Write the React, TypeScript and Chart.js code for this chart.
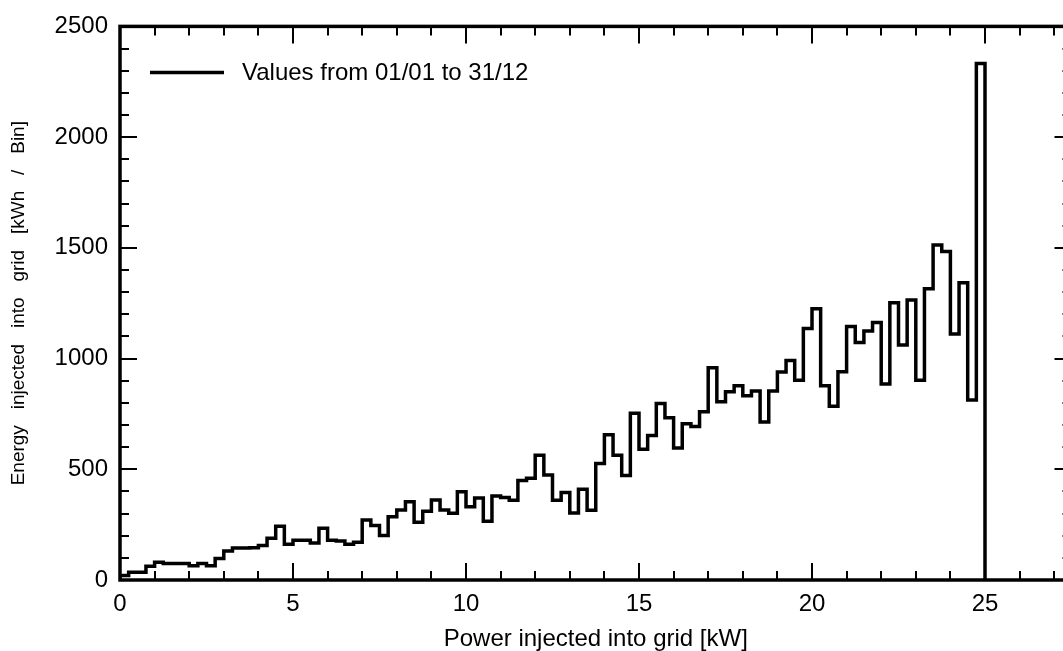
import React, { useEffect, useRef } from "react";
import { Chart, registerables } from "chart.js";

Chart.register(...registerables);

// ---- data ----
const BIN_WIDTH = 0.25; // kW per bin
const energyPerBin = [
  20, 35, 35, 62, 80, 74, 74, 74, 64, 74,
  64, 97, 131, 144, 144, 146, 156, 189, 243, 161,
  179, 179, 167, 234, 179, 176, 161, 170, 271, 246,
  201, 286, 316, 353, 261, 310, 361, 316, 301, 398,
  331, 370, 265, 379, 372, 360, 449, 459, 563, 474,
  360, 395, 303, 410, 315, 526, 656, 563, 472, 753,
  590, 652, 797, 733, 596, 706, 693, 760, 959, 805,
  850, 877, 832, 853, 713, 853, 939, 991, 902, 1136,
  1225, 877, 785, 940, 1145, 1072, 1125, 1163, 885, 1252,
  1061, 1264, 902, 1315, 1513, 1483, 1111, 1342, 813, 2333,
];
const binStarts = energyPerBin.map((_, i) => i * BIN_WIDTH);
const xTickLabels = [0, 5, 10, 15, 20, 25];
const yTickLabels = [0, 500, 1000, 1500, 2000, 2500];
const seriesLabel = "Values from 01/01 to 31/12";
const xTitle = "Power injected into grid [kW]";
const yTitle = "Energy   injected   into   grid   [kWh   /   Bin]";

const X_MIN = 0;
const X_MAX = 27.5;
const Y_MIN = 0;
const Y_MAX = 2500;
const X_MINOR = 1;
const X_MAJOR = 5;
const Y_MINOR = 100;
const Y_MAJOR = 500;

const FONT = "'Liberation Sans', Arial, Helvetica, sans-serif";

const frameTicksLegend = {
  id: "frameTicksLegend",
  afterDatasetsDraw(chart: any) {
    const { ctx, chartArea, scales } = chart;
    const { left, right, top, bottom } = chartArea;
    const xs = scales.x;
    const ys = scales.y;
    ctx.save();
    ctx.strokeStyle = "#000";
    ctx.lineCap = "butt";
    ctx.lineWidth = 2;
    ctx.beginPath();
    for (let v = X_MIN; v <= X_MAX + 1e-9; v += X_MINOR) {
      const px = Math.round(xs.getPixelForValue(v));
      const len = Math.abs(v % X_MAJOR) < 1e-9 ? 17 : 9;
      ctx.moveTo(px, bottom);
      ctx.lineTo(px, bottom - len);
      ctx.moveTo(px, top);
      ctx.lineTo(px, top + len);
    }
    for (let v = Y_MIN; v <= Y_MAX + 1e-9; v += Y_MINOR) {
      const py = Math.round(ys.getPixelForValue(v));
      const len = Math.abs(v % Y_MAJOR) < 1e-9 ? 17 : 9;
      ctx.moveTo(left, py);
      ctx.lineTo(left + len, py);
      ctx.moveTo(right, py);
      ctx.lineTo(right - len, py);
    }
    ctx.stroke();

    ctx.lineWidth = 3.5;
    ctx.strokeRect(left, top, right - left, bottom - top);

    // legend inside plot area
    const ly = top + 46;
    ctx.lineWidth = 3.5;
    ctx.beginPath();
    ctx.moveTo(left + 30, ly);
    ctx.lineTo(left + 104, ly);
    ctx.stroke();
    ctx.fillStyle = "#000";
    ctx.font = `24px ${FONT}`;
    ctx.textAlign = "left";
    ctx.textBaseline = "middle";
    ctx.fillText(chart.data.datasets[0].label, left + 122, ly + 1);
    ctx.restore();
  },
};

export default function App() {
  const canvasRef = useRef<HTMLCanvasElement | null>(null);

  useEffect(() => {
    const canvas = canvasRef.current;
    if (!canvas) return;
    const points = [
      { x: X_MIN, y: 0 },
      ...binStarts.map((x, i) => ({ x, y: energyPerBin[i] })),
      { x: binStarts[binStarts.length - 1] + BIN_WIDTH, y: 0 },
    ];
    const chart = new Chart(canvas, {
      type: "line",
      data: {
        datasets: [
          {
            label: seriesLabel,
            data: points,
            stepped: "before",
            borderColor: "#000",
            borderWidth: 3.5,
            pointRadius: 0,
            fill: false,
            tension: 0,
          },
        ],
      },
      options: {
        animation: false,
        responsive: false,
        devicePixelRatio: 1,
        layout: { padding: { top: 20, right: 8.5, left: 0, bottom: 0 } },
        plugins: {
          legend: { display: false },
          tooltip: { enabled: false },
        },
        scales: {
          x: {
            type: "linear",
            min: X_MIN,
            max: X_MAX,
            afterBuildTicks: (s: any) => {
              s.ticks = xTickLabels.map((v) => ({ value: v }));
            },
            afterFit: (s: any) => {
              s.height = 71;
            },
            grid: { display: false, drawTicks: false },
            border: { display: false },
            ticks: {
              color: "#000",
              font: { family: FONT, size: 24 },
              padding: 10,
              maxRotation: 0,
              callback: (v: any) => String(v),
            },
            title: {
              display: true,
              text: xTitle,
              color: "#000",
              font: { family: FONT, size: 24, lineHeight: 1 },
              padding: { top: 0, bottom: 0 },
            },
          },
          y: {
            type: "linear",
            min: Y_MIN,
            max: Y_MAX,
            afterBuildTicks: (s: any) => {
              s.ticks = yTickLabels.map((v) => ({ value: v }));
            },
            afterFit: (s: any) => {
              s.width = 120;
            },
            grid: { display: false, drawTicks: false },
            border: { display: false },
            ticks: {
              color: "#000",
              font: { family: FONT, size: 24 },
              padding: 12,
              callback: (v: any) => String(v),
            },
            title: {
              display: true,
              text: yTitle,
              color: "#000",
              font: { family: FONT, size: 19, lineHeight: 1 },
              padding: { top: 9, bottom: 0 },
            },
          },
        },
      },
      plugins: [frameTicksLegend],
    });
    return () => chart.destroy();
  }, []);

  return (
    <div
      style={{
        position: "fixed",
        left: 0,
        top: 0,
        width: 1063,
        height: 651,
        overflow: "hidden",
        background: "#fff",
      }}
    >
      <canvas
        ref={canvasRef}
        width={1080}
        height={651}
        style={{ width: 1080, height: 651, display: "block" }}
      />
    </div>
  );
}
